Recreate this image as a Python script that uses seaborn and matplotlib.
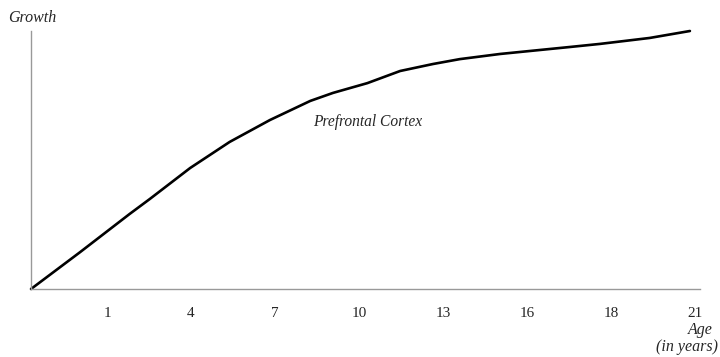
import pandas as pd
import numpy as np
import matplotlib
matplotlib.use("Agg")
import matplotlib.pyplot as plt
import seaborn as sns

# Prefrontal cortex growth curve (x = position along the age axis, ticks at 1..8)
pos = [0.095, 0.68, 1.27, 1.51, 1.99, 2.46, 2.94, 3.42, 3.69, 4.10, 4.49, 4.88, 5.20,
       5.68, 6.51, 6.87, 7.46, 7.94]
growth = [0, 14.3, 29.1, 34.9, 46.9, 57.0, 65.5, 72.9, 76.0, 79.8, 84.5, 87.2, 89.1,
          91.1, 93.8, 95.0, 97.3, 100]
age_labels = ["1", "4", "7", "10", "13", "16", "18", "21"]

df = pd.DataFrame({"pos": pos, "growth": growth})

sns.set_style("white")
plt.rcParams['font.family'] = ['Liberation Serif', 'DejaVu Serif']

fig = plt.figure(figsize=(7.2, 3.57), dpi=100)
ax = fig.add_axes([31 / 720, 68 / 357, 669 / 720, 258 / 357])

sns.lineplot(data=df, x="pos", y="growth", ax=ax, color="black", linewidth=1.9)
for l in ax.lines:
    l.set_clip_on(False)
    l.set_solid_joinstyle("round")
    l.set_solid_capstyle("round")

ax.set_xlim(0.095, 8.06)
ax.set_ylim(0, 100)
ax.set_xticks(range(1, len(age_labels) + 1))
ax.set_xticklabels(age_labels, fontsize=11)
ax.set_yticks([])
ax.tick_params(axis="x", length=0, pad=13)
ax.set_xlabel("")
ax.set_ylabel("")

for s in ["top", "right"]:
    ax.spines[s].set_visible(False)
for s in ["left", "bottom"]:
    ax.spines[s].set_color("#999999")
    ax.spines[s].set_linewidth(1)

fig.text(8 / 720, 1 - 18 / 357, "Growth", fontsize=11.5, style="italic", va="center", ha="left")
ax.text(4.1, 64.7, "Prefrontal Cortex", fontsize=11.2, style="italic", va="center", ha="center")
fig.text(713 / 720, 1 - 330 / 357, "Age", fontsize=11.5, style="italic", va="center", ha="right")
fig.text(718 / 720, 1 - 347 / 357, "(in years)", fontsize=11.5, style="italic", va="center", ha="right")

plt.savefig("out.png", dpi=100)
